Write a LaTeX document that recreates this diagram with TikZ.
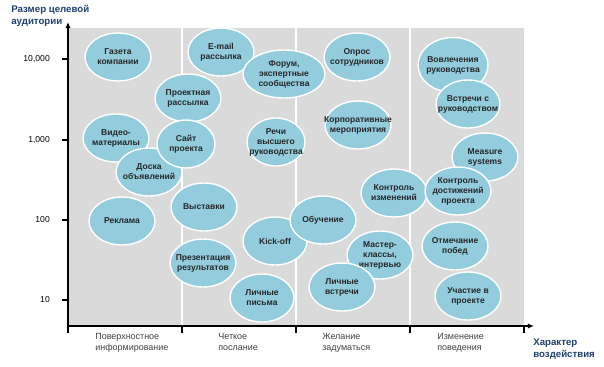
\documentclass[tikz,border=0pt]{standalone}
\usepackage{fontspec}
\setmainfont{Liberation Sans}
\usetikzlibrary{shapes.geometric,arrows.meta}
\definecolor{bubble}{HTML}{93CDDD}
\definecolor{field}{HTML}{DADADA}
\definecolor{titleblue}{HTML}{1F3F6E}
\definecolor{bubtext}{HTML}{262626}
\definecolor{cattext}{HTML}{404040}
\tikzset{
  bub/.style={ellipse, fill=bubble, draw=white, line width=0.8pt,
    minimum width=1.32cm, minimum height=0.96cm, inner sep=-12pt,
    align=center, text=bubtext, font=\fontsize{4.85}{5.7}\selectfont\bfseries},
  axis/.style={line width=0.8pt, -{Latex[length=3.5pt,width=3pt]}},
  catlab/.style={anchor=north west, align=left, text=cattext, inner sep=0pt,
    font=\fontsize{5.1}{6.2}\selectfont},
  ylab/.style={anchor=east, font=\fontsize{4.9}{5.5}\selectfont},
  axtitle/.style={align=left, text=titleblue, inner sep=0pt,
    font=\fontsize{5.5}{6.6}\selectfont\bfseries}
}
\begin{document}
\begin{tikzpicture}[x=0.02cm,y=-0.02cm]
    \useasboundingbox (0,0) rectangle (604,366);
    % field and columns
    \fill[field] (68,28) rectangle (524,326);
    \foreach \x in {182,296,410}
        \draw[white, line width=0.8pt] (\x,28) -- (\x,326);
    % axes
    \coordinate (o) at (68,326);
    \coordinate (xend) at (534,326);
    \coordinate (yend) at (68,22);
    \draw[axis] (o) -- (xend);
    \draw[axis] (o) -- (yend);
    \foreach \x in {68,182,296,410,524}
        \draw[line width=0.8pt] (\x,326) -- (\x,333);
    \foreach \y/\t in {59/{10,000},140/{1,000},220/100,300/10} {
        \draw[line width=0.8pt] (62,\y) -- (68,\y);
        \node[ylab] (y\y) at (56,\y) {\t};
    }
    % axis titles
    \node[axtitle, anchor=north west] (ytitle) at (11,5) {Размер целевой\\аудитории};
    \node[axtitle, anchor=west] (xtitle) at (533,349) {Характер\\воздействия};
    % categories
    \node[catlab] (c1) at (95,333) {Поверхностное\\информирование};
    \node[catlab] (c2) at (218,333) {Четкое\\послание};
    \node[catlab] (c3) at (322,333) {Желание\\задуматься};
    \node[catlab] (c4) at (437,333) {Изменение\\поведения};
    % column 1
    \node[bub] (gazeta) at (118,57) {Газета\\компании};
    \node[bub] (video) at (116,138) {Видео-\\материалы};
    \node[bub] (doska) at (149,172) {Доска\\объявлений};
    \node[bub] (reklama) at (122,221) {Реклама};
    % column 2
    \node[bub] (email) at (221,52) {E-mail\\рассылка};
    \node[bub, minimum width=1.64cm] (forum) at (284,74) {Форум,\\экспертные\\сообщества};
    \node[bub] (rassylka) at (188,98) {Проектная\\рассылка};
    \node[bub, minimum width=1.16cm] (sait) at (186,144) {Сайт\\проекта};
    \node[bub, minimum width=1.16cm] (rechi) at (276,142) {Речи\\высшего\\руководства};
    \node[bub] (vystavki) at (204,207) {Выставки};
    \node[bub] (prezent) at (203,263) {Презентация\\результатов};
    \node[bub, minimum width=1.28cm] (kickoff) at (275,241) {Kick-off};
    \node[bub, minimum width=1.28cm] (pisma) at (262,298) {Личные\\письма};
    % column 3
    \node[bub] (opros) at (357,57) {Опрос\\сотрудников};
    \node[bub] (korp) at (358,125) {Корпоративные\\мероприятия};
    \node[bub] (kontrizm) at (394,193) {Контроль\\изменений};
    \node[bub] (obuch) at (323,220) {Обучение};
    \node[bub] (master) at (380,255) {Мастер-\\классы,\\интервью};
    \node[bub] (vstrechi) at (342,287) {Личные\\встречи};
    % column 4
    \node[bub, minimum width=1.4cm, minimum height=1.1cm] (vovl) at (453,65) {Вовлечения\\руководства};
    \node[bub, minimum width=1.28cm] (vstrruk) at (468,104) {Встречи с\\руководством};
    \node[bub] (measure) at (485,157) {Measure\\systems};
    \node[bub] (kontrdost) at (458,191) {Контроль\\достижений\\проекта};
    \node[bub] (pobedy) at (455,246) {Отмечание\\побед};
    \node[bub] (uchastie) at (468,296) {Участие в\\проекте};
\end{tikzpicture}
\end{document}
